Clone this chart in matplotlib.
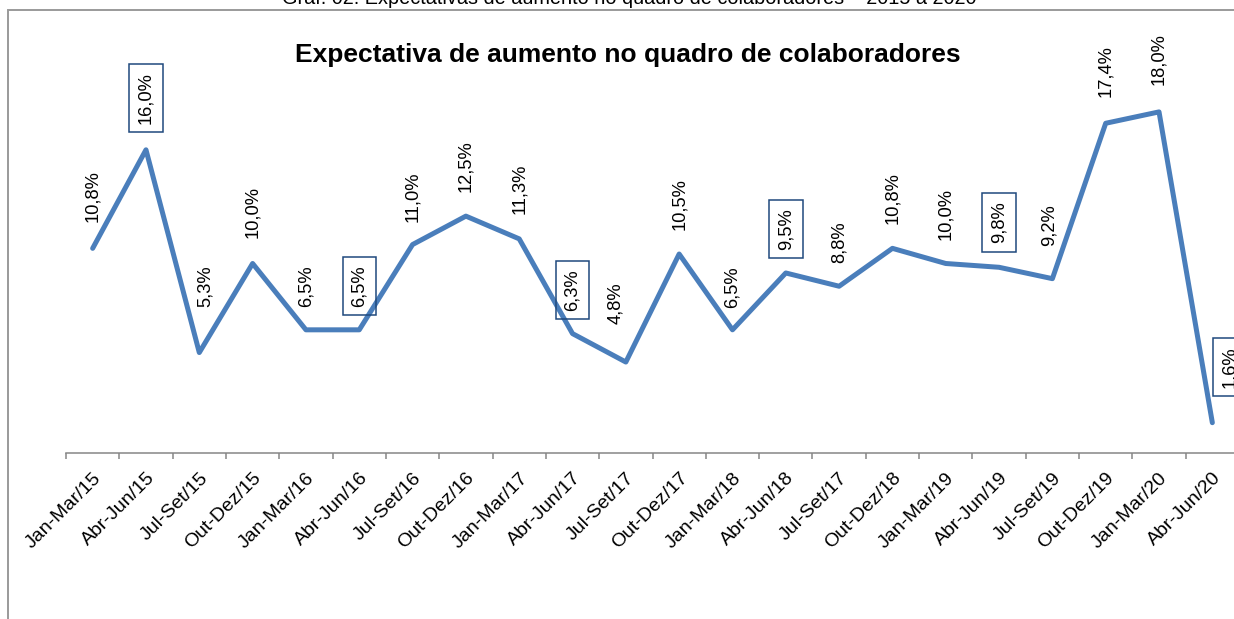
import numpy as np
import matplotlib
matplotlib.use("Agg")
import matplotlib.pyplot as plt
from matplotlib.patches import Rectangle

plt.rcParams["font.family"] = ["Liberation Sans", "DejaVu Sans"]

periods = [
    "Jan-Mar/15", "Abr-Jun/15", "Jul-Set/15", "Out-Dez/15",
    "Jan-Mar/16", "Abr-Jun/16", "Jul-Set/16", "Out-Dez/16",
    "Jan-Mar/17", "Abr-Jun/17", "Jul-Set/17", "Out-Dez/17",
    "Jan-Mar/18", "Abr-Jun/18", "Jul-Set/17", "Out-Dez/18",
    "Jan-Mar/19", "Abr-Jun/19", "Jul-Set/19", "Out-Dez/19",
    "Jan-Mar/20", "Abr-Jun/20",
]
values = [10.8, 16.0, 5.3, 10.0, 6.5, 6.5, 11.0, 12.5, 11.3, 6.3, 4.8,
          10.5, 6.5, 9.5, 8.8, 10.8, 10.0, 9.8, 9.2, 17.4, 18.0, 1.6]
boxed = [1, 5, 9, 13, 17, 21]

# label placement (pixels above / beside each point)
label_dy = [26, 26, 46, 25, 23, 23, 23, 24, 25, 23, 38,
            24, 22, 23, 23, 24, 23, 24, 33, 26, 27, 35]
label_dx = [0, 0, 6, 0, 0, 0, 0, 0, 0, 0, -10,
            0, 0, 0, 0, 0, 0, 0, -3, 0, 0, 17]

title = "Expectativa de aumento no quadro de colaboradores"
caption = "Gráf. 02: Expectativas de aumento no quadro de colaboradores – 2015 a 2020"

W, H = 1234, 619
fig = plt.figure(figsize=(W / 100, H / 100), dpi=100)
ax = fig.add_axes([66 / W, 166 / H, 1173 / W, 379 / H])

x = np.arange(len(values))
ax.plot(x, values, color="#4a7ebb", lw=3.6, solid_joinstyle="round",
        solid_capstyle="round", zorder=3)

ax.set_xlim(-0.5, len(values) - 0.5)
ax.set_ylim(0, 20)

px = 0.72  # points per pixel at dpi 100
for i, v in enumerate(values):
    txt = f"{v:.1f}".replace(".", ",") + "%"
    kw = {}
    if i in boxed:
        kw["bbox"] = dict(boxstyle="square,pad=0.45", fc="none",
                          ec="#1f497d", lw=1.1)
    ax.annotate(txt, (i, v), xytext=(label_dx[i] * px, label_dy[i] * px),
                textcoords="offset points", rotation=90, ha="center",
                va="bottom", fontsize=13.2, color="black",
                annotation_clip=False, zorder=4, **kw)

for s in ["left", "top", "right"]:
    ax.spines[s].set_visible(False)
ax.spines["bottom"].set_color("#868686")
ax.spines["bottom"].set_linewidth(1.1)
ax.set_yticks([])

ax.set_xticks(np.arange(-0.5, len(values), 1.0))
ax.set_xticklabels([])
ax.tick_params(axis="x", which="major", length=4.5, width=1.1, color="#868686")
ax.set_xticks(x, minor=True)
ax.set_xticklabels(periods, minor=True, rotation=45, ha="right",
                   rotation_mode="anchor", fontsize=14)
ax.tick_params(axis="x", which="minor", length=0, pad=12)

fig.text(628 / W, 1 - 62 / H, title, ha="center", va="baseline",
         fontsize=19, fontweight="bold")
fig.text(629 / W, 1 - 4 / H, caption, ha="center", va="baseline",
         fontsize=14.3)

fig.patches.append(Rectangle((8 / W, -0.1), 1.2, 1.1 - 10.5 / H,
                             transform=fig.transFigure, fill=False,
                             ec="#9a9a9a", lw=1.4))

fig.savefig("out.png", dpi=100)
